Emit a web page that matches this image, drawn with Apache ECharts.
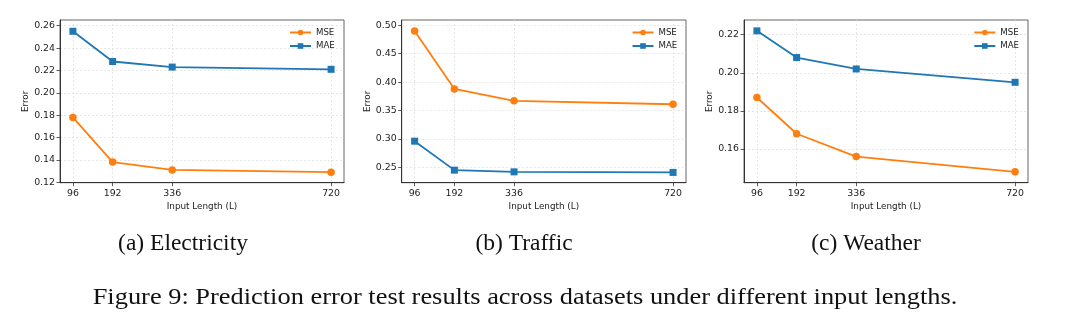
<!DOCTYPE html>
<html>
<head>
<meta charset="utf-8">
<script src="https://cdn.jsdelivr.net/npm/echarts@6/dist/echarts.min.js"></script>
<style>
html,body{margin:0;padding:0;background:#fff;}
#chart{width:1080px;height:333px;}
</style>
</head>
<body>
<div id="chart"></div>
<script>
// ---- data ----
const inputLengths = [96, 192, 336, 720];
const seriesNames = ['MSE', 'MAE'];
const electricityMSE = [0.178, 0.138, 0.131, 0.129];
const electricityMAE = [0.255, 0.228, 0.223, 0.221];
const trafficMSE = [0.490, 0.388, 0.367, 0.361];
const trafficMAE = [0.296, 0.245, 0.242, 0.241];
const weatherMSE = [0.187, 0.168, 0.156, 0.148];
const weatherMAE = [0.222, 0.208, 0.202, 0.195];
const electricityTicks = [0.12, 0.14, 0.16, 0.18, 0.20, 0.22, 0.24, 0.26];
const trafficTicks = [0.25, 0.30, 0.35, 0.40, 0.45, 0.50];
const weatherTicks = [0.16, 0.18, 0.20, 0.22];
const subCaptions = ['(a) Electricity', '(b) Traffic', '(c) Weather'];
const figureCaption = 'Figure 9: Prediction error test results across datasets under different input lengths.';

// ---- layout ----
const panels = [
  {left: 60, width: 284, ymin: 0.1196, ymax: 0.2651, ticks: electricityTicks, mse: electricityMSE, mae: electricityMAE, legendLeft: 289, capX: 183},
  {left: 401.7, width: 284.3, ymin: 0.2229, ymax: 0.5093, ticks: trafficTicks, mse: trafficMSE, mae: trafficMAE, legendLeft: 631.5, capX: 524},
  {left: 744, width: 284, ymin: 0.1423, ymax: 0.2277, ticks: weatherTicks, mse: weatherMSE, mae: weatherMAE, legendLeft: 973.3, capX: 866}
];
const TOP = 20, HEIGHT = 162.7;
const FONT = 'DejaVu Sans';
const SERIF = 'Liberation Serif';
const ORANGE = '#ff7f0e', BLUE = '#1f77b4';

const grid = [], xAxis = [], yAxis = [], series = [], legend = [], graphic = [];
panels.forEach((p, i) => {
  grid.push({left: p.left, top: TOP, width: p.width, height: HEIGHT, show: true,
    borderColor: '#666', borderWidth: 1, backgroundColor: 'transparent', containLabel: false});
  xAxis.push({type: 'value', gridIndex: i, min: 64.8, max: 751.2,
    name: 'Input Length (L)', nameLocation: 'middle', nameGap: 20,
    nameTextStyle: {fontFamily: FONT, fontSize: 8.8, color: '#222'},
    axisLine: {show: true, lineStyle: {color: '#333', width: 1}},
    axisTick: {show: true, inside: false, length: 3.5, lineStyle: {color: '#333', width: 0.8}, customValues: inputLengths},
    axisLabel: {customValues: inputLengths, fontFamily: FONT, fontSize: 9.4, color: '#222', margin: 6.5},
    splitLine: {show: true, lineStyle: {color: '#e0e0e0', type: [2, 2], width: 0.8}}
  });
  yAxis.push({type: 'value', gridIndex: i, min: p.ymin, max: p.ymax,
    name: 'Error', nameLocation: 'middle', nameGap: 28.5, nameRotate: 90,
    nameTextStyle: {fontFamily: FONT, fontSize: 8.8, color: '#222'},
    axisLine: {show: true, lineStyle: {color: '#333', width: 1}},
    axisTick: {show: true, inside: false, length: 3.5, lineStyle: {color: '#333', width: 0.8}, customValues: p.ticks},
    axisLabel: {customValues: p.ticks, fontFamily: FONT, fontSize: 9.4, color: '#222', margin: 5,
      formatter: v => v.toFixed(2)},
    splitLine: {show: true, lineStyle: {color: '#e0e0e0', type: [2, 2], width: 0.8}}
  });
  series.push({type: 'line', name: 'MSE', xAxisIndex: i, yAxisIndex: i,
    data: inputLengths.map((x, k) => [x, p.mse[k]]),
    symbol: 'circle', symbolSize: 7.5, lineStyle: {color: ORANGE, width: 1.8},
    itemStyle: {color: ORANGE}, animation: false});
  series.push({type: 'line', name: 'MAE', xAxisIndex: i, yAxisIndex: i,
    data: inputLengths.map((x, k) => [x, p.mae[k]]),
    symbol: 'rect', symbolSize: 7, lineStyle: {color: BLUE, width: 1.8},
    itemStyle: {color: BLUE}, animation: false});
  legend.push({data: seriesNames, orient: 'vertical', left: p.legendLeft, top: 28, padding: 0,
    itemWidth: 21, itemHeight: 7, itemGap: 4.5, selectedMode: false,
    textStyle: {fontFamily: FONT, fontSize: 8.6, color: '#222'}});
  graphic.push({type: 'text', x: p.capX, y: 243.5, silent: true,
    style: {text: subCaptions[i], font: '23.5px "Liberation Serif"', fill: '#111',
      textAlign: 'center', textVerticalAlign: 'middle', align: 'center', verticalAlign: 'middle'}});
});
graphic.push({type: 'text', x: 525, y: 297.5, scaleX: 1.1, silent: true,
  style: {text: figureCaption, font: '24px "Liberation Serif"', fill: '#111',
    textAlign: 'center', textVerticalAlign: 'middle', align: 'center', verticalAlign: 'middle'}});

const chart = echarts.init(document.getElementById('chart'), null, {renderer: 'canvas'});
chart.setOption({backgroundColor: '#fff', animation: false, grid, xAxis, yAxis, series, legend, graphic});
</script>
</body>
</html>
